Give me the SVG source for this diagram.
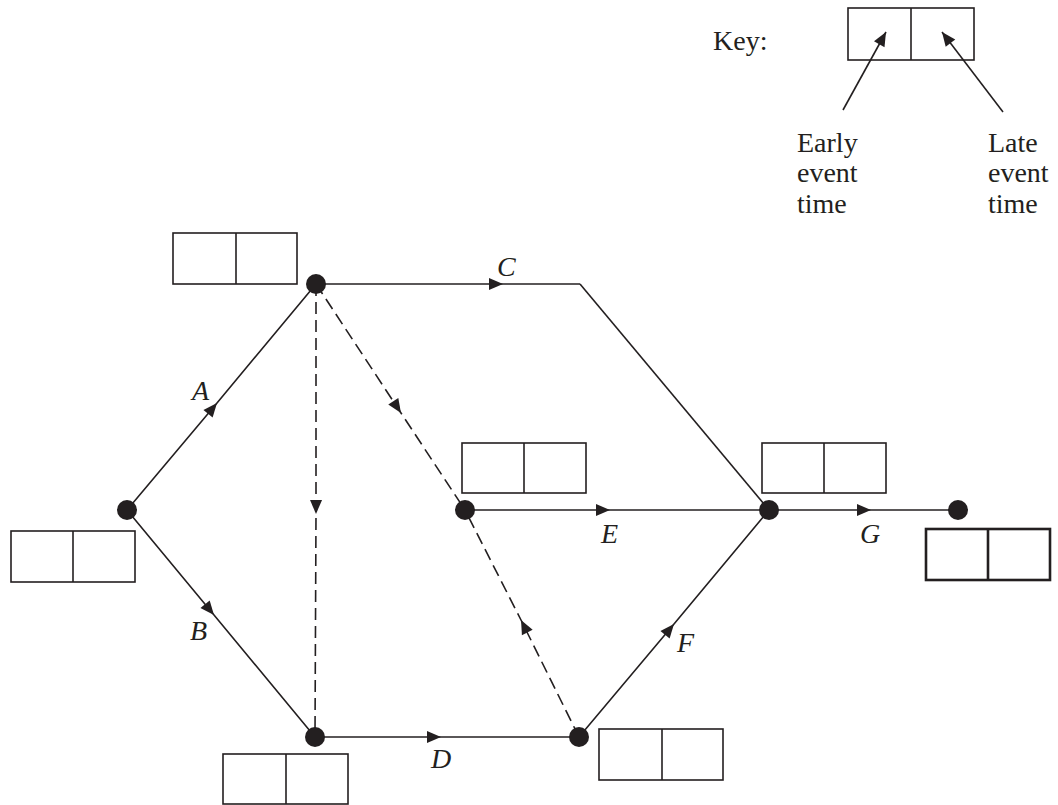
<svg xmlns="http://www.w3.org/2000/svg" width="1058" height="805" viewBox="0 0 1058 805">
<style>
.edge{fill:none;stroke:#231f20;stroke-width:1.6}
.dash{stroke-dasharray:12 6}
.box{fill:#fff;stroke:#231f20;stroke-width:1.6}
.bold{stroke-width:2.6}
.dot{fill:#231f20}
.t{font-family:"Liberation Serif","Times New Roman",serif;font-size:28px;fill:#231f20}
.lab{font-family:"Liberation Serif","Times New Roman",serif;font-size:28px;font-style:italic;fill:#231f20}
</style>
<defs>
<marker id="ah" markerUnits="userSpaceOnUse" markerWidth="18" markerHeight="14" refX="15" refY="7" orient="auto" viewBox="0 0 18 14">
<path d="M1,1 L15,7 L1,13 z" fill="#231f20"/>
</marker>
</defs>
<rect width="1058" height="805" fill="#fff"/>

<g id="key">
<text class="t" x="713" y="50">Key:</text>
<rect class="box" x="848" y="8" width="126" height="52"/>
<line class="edge" x1="911" y1="8" x2="911" y2="60"/>
<line class="edge" x1="843" y1="110" x2="886" y2="32" marker-end="url(#ah)"/>
<line class="edge" x1="1003" y1="112" x2="942" y2="32" marker-end="url(#ah)"/>
<text class="t" x="797" y="152">Early</text>
<text class="t" x="797" y="182">event</text>
<text class="t" x="797" y="213">time</text>
<text class="t" x="988" y="152">Late</text>
<text class="t" x="988" y="182">event</text>
<text class="t" x="988" y="213">time</text>
</g>

<g id="connectors">
<path class="edge" d="M127,510 L217,403 L316,284" marker-mid="url(#ah)"/>
<path class="edge" d="M127,510 L214,615 L315,737" marker-mid="url(#ah)"/>
<path class="edge" d="M316,284 L503,284 L580,284" marker-mid="url(#ah)"/>
<path class="edge" d="M580,284 L769,510"/>
<path class="edge dash" d="M316,284 L316,514 L315,737" marker-mid="url(#ah)"/>
<path class="edge dash" d="M316,284 L401,413 L465,510" marker-mid="url(#ah)"/>
<path class="edge" d="M315,737 L441,737 L579,737" marker-mid="url(#ah)"/>
<path class="edge" d="M465,510 L610,510 L769,510" marker-mid="url(#ah)"/>
<path class="edge dash" d="M579,737 L521,620 L465,510" marker-mid="url(#ah)"/>
<path class="edge" d="M579,737 L674,624 L769,510" marker-mid="url(#ah)"/>
<path class="edge" d="M769,510 L871,510 L958,510" marker-mid="url(#ah)"/>
<text class="lab" x="192" y="400">A</text>
<text class="lab" x="190" y="640">B</text>
<text class="lab" x="497" y="276">C</text>
<text class="lab" x="431" y="768">D</text>
<text class="lab" x="601" y="543">E</text>
<text class="lab" x="677" y="652">F</text>
<text class="lab" x="860" y="543">G</text>
</g>

<g id="n1">
<circle class="dot" cx="127" cy="510" r="10"/>
<rect class="box" x="11" y="531" width="124" height="51"/>
<line class="edge" x1="73" y1="531" x2="73" y2="582"/>
</g>
<g id="n2">
<circle class="dot" cx="316" cy="284" r="10"/>
<rect class="box" x="173" y="233" width="124" height="51"/>
<line class="edge" x1="236" y1="233" x2="236" y2="284"/>
</g>
<g id="n3">
<circle class="dot" cx="465" cy="510" r="10"/>
<rect class="box" x="462" y="443" width="124" height="50"/>
<line class="edge" x1="524" y1="443" x2="524" y2="493"/>
</g>
<g id="n4">
<circle class="dot" cx="315" cy="737" r="10"/>
<rect class="box" x="223" y="754" width="125" height="50"/>
<line class="edge" x1="286" y1="754" x2="286" y2="804"/>
</g>
<g id="n5">
<circle class="dot" cx="579" cy="737" r="10"/>
<rect class="box" x="599" y="729" width="124" height="51"/>
<line class="edge" x1="662" y1="729" x2="662" y2="780"/>
</g>
<g id="n6">
<circle class="dot" cx="769" cy="510" r="10"/>
<rect class="box" x="762" y="443" width="124" height="50"/>
<line class="edge" x1="824" y1="443" x2="824" y2="493"/>
</g>
<g id="n7">
<circle class="dot" cx="958" cy="510" r="10"/>
<rect class="box bold" x="926" y="529" width="124" height="51"/>
<line class="edge bold" x1="988" y1="529" x2="988" y2="580"/>
</g>
</svg>
